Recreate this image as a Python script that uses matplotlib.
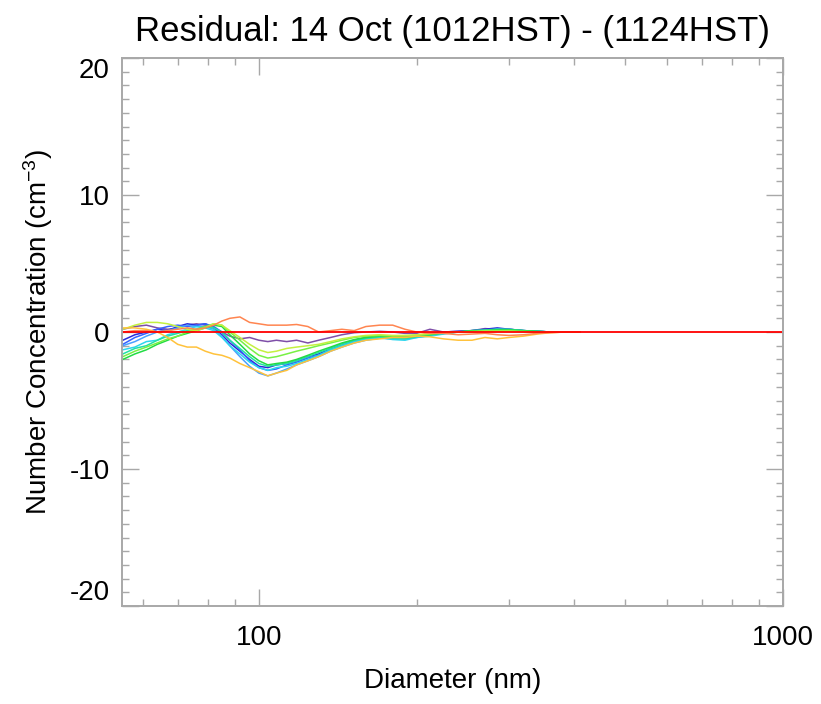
import numpy as np
import matplotlib.pyplot as plt
from matplotlib.ticker import FixedLocator, NullFormatter

plt.rcParams['font.family'] = ['Liberation Sans', 'DejaVu Sans']
plt.rcParams['axes.unicode_minus'] = False
plt.rcParams['mathtext.fontset'] = 'custom'
plt.rcParams['mathtext.rm'] = 'Liberation Sans'
plt.rcParams['mathtext.it'] = 'Liberation Sans'

# diameters (nm) where the residual curves were sampled
diameter = [55, 58, 61, 64, 67, 70, 73, 76, 79, 82, 85, 88, 92, 96, 100, 104,
            108, 113, 118, 124, 130, 137, 144, 152, 160, 170, 180, 190, 200,
            212, 225, 240, 255, 270, 285, 300, 320, 340, 360, 385, 410]

purple = [0.2, 0.4, 0.5, 0.3, 0.2, 0.3, 0.5, 0.6, 0.5, 0.3, 0.0, -0.3, -0.5, -0.4,
          -0.6, -0.7, -0.6, -0.7, -0.6, -0.8, -0.6, -0.4, -0.2, -0.05, 0.0, 0.05,
          0.0, -0.1, -0.1, 0.2, 0.0, 0.05, 0.1, 0.25, 0.2, 0.2, 0.1, 0.05, 0.0, 0.0, 0.0]
dark_blue = [-0.6, -0.2, 0.0, 0.2, 0.1, 0.4, 0.6, 0.5, 0.6, 0.3, -0.2, -0.8, -1.4,
             -2.0, -2.5, -2.6, -2.4, -2.3, -2.1, -1.8, -1.6, -1.2, -0.9, -0.6, -0.4,
             -0.3, -0.35, -0.3, -0.3, -0.1, 0.0, 0.05, 0.1, 0.2, 0.3, 0.2, 0.1, 0.05,
             0.0, 0.0, 0.0]
blue = [-0.9, -0.4, -0.1, 0.2, 0.4, 0.5, 0.4, 0.5, 0.6, 0.4, 0.0, -0.6, -1.3, -2.1,
        -2.6, -2.8, -2.7, -2.4, -2.2, -1.9, -1.7, -1.3, -1.0, -0.7, -0.5, -0.35,
        -0.4, -0.45, -0.3, -0.2, 0.0, 0.0, 0.1, 0.15, 0.2, 0.2, 0.1, 0.05, 0.0, 0.0, 0.0]
light_blue = [-1.0, -0.7, -0.3, 0.0, 0.1, 0.3, 0.5, 0.4, 0.4, 0.2, -0.3, -1.0, -1.8,
              -2.5, -3.0, -3.2, -3.0, -2.7, -2.4, -2.1, -1.8, -1.4, -1.1, -0.8, -0.6,
              -0.45, -0.5, -0.5, -0.4, -0.25, -0.1, 0.0, 0.0, 0.1, 0.1, 0.1, 0.05,
              0.0, 0.0, 0.0, 0.0]
cyan = [-1.3, -1.1, -0.7, -0.6, -0.2, 0.0, 0.2, 0.4, 0.3, 0.1, -0.4, -1.0, -1.6,
        -2.2, -2.6, -2.8, -2.6, -2.5, -2.3, -2.0, -1.7, -1.3, -1.0, -0.7, -0.5, -0.4,
        -0.55, -0.6, -0.4, -0.3, -0.15, 0.0, 0.05, 0.1, 0.2, 0.15, 0.1, 0.05, 0.0, 0.0, 0.0]
teal = [-1.6, -1.2, -1.0, -0.6, -0.3, -0.1, 0.1, 0.2, 0.4, 0.3, 0.0, -0.6, -1.2,
        -1.8, -2.3, -2.5, -2.4, -2.3, -2.1, -1.8, -1.5, -1.2, -0.9, -0.6, -0.45,
        -0.35, -0.45, -0.5, -0.35, -0.2, -0.1, 0.0, 0.1, 0.15, 0.2, 0.2, 0.1, 0.05,
        0.0, 0.0, 0.0]
green = [-2.0, -1.6, -1.3, -0.9, -0.6, -0.3, -0.1, 0.1, 0.3, 0.5, 0.4, -0.2, -0.9,
         -1.6, -2.1, -2.4, -2.3, -2.2, -2.0, -1.7, -1.4, -1.1, -0.8, -0.55, -0.4,
         -0.3, -0.35, -0.4, -0.3, -0.2, -0.05, 0.0, 0.1, 0.1, 0.15, 0.15, 0.1, 0.05,
         0.0, 0.0, 0.0]
light_green = [-1.8, -1.4, -1.1, -0.8, -0.5, -0.3, 0.0, 0.2, 0.4, 0.6, 0.5, 0.0,
               -0.6, -1.2, -1.7, -1.9, -1.8, -1.6, -1.4, -1.2, -1.0, -0.8, -0.6,
               -0.4, -0.3, -0.25, -0.3, -0.3, -0.25, -0.15, -0.05, 0.0, 0.05, 0.1,
               0.1, 0.1, 0.05, 0.0, 0.0, 0.0, 0.0]
yellow_green = [0.2, 0.5, 0.7, 0.7, 0.6, 0.4, 0.2, 0.1, 0.3, 0.6, 0.5, 0.1, -0.4,
                -0.9, -1.3, -1.5, -1.4, -1.2, -1.1, -1.0, -0.9, -0.7, -0.5, -0.35,
                -0.25, -0.2, -0.25, -0.25, -0.2, -0.1, -0.05, 0.0, 0.0, 0.05, 0.05,
                0.05, 0.0, 0.0, 0.0, 0.0, 0.0]
gold = [0.3, 0.3, 0.2, 0.0, -0.4, -0.9, -1.1, -1.1, -1.4, -1.6, -1.7, -1.9, -2.3,
        -2.6, -2.9, -3.2, -3.0, -2.8, -2.4, -2.1, -1.8, -1.4, -1.1, -0.8, -0.6, -0.5,
        -0.4, -0.4, -0.3, -0.35, -0.5, -0.6, -0.6, -0.4, -0.5, -0.4, -0.3, -0.15,
        -0.05, 0.0, 0.0]
orange = [0.0, 0.1, 0.1, 0.0, 0.1, 0.2, 0.3, 0.2, 0.3, 0.5, 0.8, 1.0, 1.1, 0.7, 0.6,
          0.5, 0.5, 0.5, 0.55, 0.4, 0.0, 0.1, 0.2, 0.1, 0.4, 0.5, 0.5, 0.2, 0.0, -0.1,
          -0.1, -0.2, -0.15, -0.1, -0.2, -0.25, -0.2, -0.1, -0.05, 0.0, 0.0]

curves = [
    (purple, '#7f4fa8'),
    (dark_blue, '#2a2ad8'),
    (blue, '#3562ff'),
    (light_blue, '#4aa0ff'),
    (cyan, '#2cd6ee'),
    (teal, '#22e0a6'),
    (green, '#22dc44'),
    (light_green, '#78f044'),
    (yellow_green, '#c4f040'),
    (gold, '#ffc23c'),
    (orange, '#ff8550'),
]

y_ticks = [-20, -10, 0, 10, 20]

fig = plt.figure(figsize=(8.21, 7.04), dpi=100)
ax = fig.add_axes([0.1486, 0.1392, 0.8051, 0.7784])

for vals, col in curves:
    ax.plot(diameter, vals, color=col, lw=1.1)
ax.axhline(0, color='#ff0000', lw=1.3)

ax.set_xscale('log')
ax.set_xlim(54.8, 1000)
ax.set_ylim(-20, 20)

ax.xaxis.set_major_locator(FixedLocator([100, 1000]))
ax.xaxis.set_minor_locator(FixedLocator([60, 70, 80, 90, 200, 300, 400, 500,
                                         600, 700, 800, 900]))
ax.xaxis.set_minor_formatter(NullFormatter())
ax.set_xticklabels(['100', '1000'])
ax.set_yticks(y_ticks)
ax.set_yticklabels([str(v) for v in y_ticks])
ax.yaxis.set_minor_locator(FixedLocator(np.arange(-20, 21, 1)))

grey = '#a8a8a8'
for sp in ax.spines.values():
    sp.set_color(grey)
    sp.set_linewidth(1.4)
ax.tick_params(which='both', direction='in', top=True, right=True,
               color=grey, labelsize=20, labelcolor='black')
ax.tick_params(which='major', length=12, width=1.0, pad=9)
ax.tick_params(which='minor', length=5, width=1.0)
ax.tick_params(axis='x', which='major', pad=14)

# IDL-style: push end labels inside the axis range
ytl = ax.get_yticklabels()
ytl[0].set_va('bottom')
ytl[-1].set_va('top')

ax.set_title('Residual: 14 Oct (1012HST) - (1124HST)', fontsize=25, pad=12)
ax.set_xlabel('Diameter (nm)', fontsize=20, labelpad=12)
ax.set_ylabel('Number Concentration (cm$^{-3}$)', fontsize=20, labelpad=10)

fig.savefig('out.png', dpi=100)
